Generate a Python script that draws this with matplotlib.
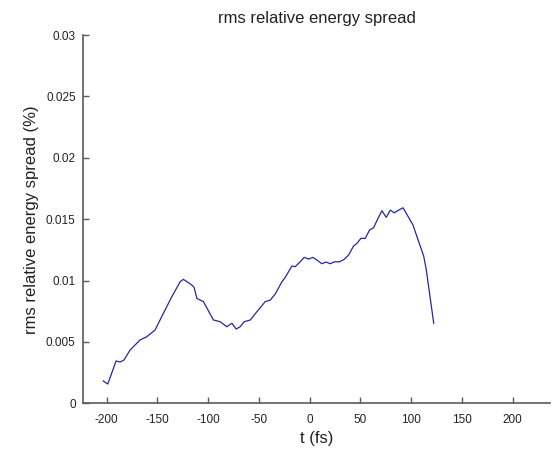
import matplotlib
matplotlib.use("Agg")
import matplotlib.pyplot as plt

plt.rcParams["font.family"] = ["Liberation Sans", "DejaVu Sans"]

# 数据：rms 相对能散曲线
t_fs = [-203.4, -199.0, -195.8, -190.8, -186.9, -183.0, -177.0, -167.2, -160.6,
        -152.4, -144.2, -135.9, -127.7, -124.5, -116.2, -113.9, -111.2, -104.7,
        -94.9, -88.3, -81.7, -76.7, -72.5, -68.5, -64.6, -58.7, -52.1, -43.9,
        -38.9, -34.0, -27.4, -24.1, -17.6, -14.3, -9.4, -5.4, -1.2, 3.2, 7.1,
        12.0, 16.0, 20.2, 24.2, 29.4, 34.0, 38.3, 43.2, 46.5, 50.5, 54.7, 59.0,
        62.9, 67.3, 71.2, 75.4, 79.4, 83.3, 87.6, 91.9, 95.2, 101.8, 105.7,
        112.3, 114.9, 122.2]
spread = [0.00182, 0.00157, 0.00230, 0.00345, 0.00336, 0.00353, 0.00434,
          0.00516, 0.00542, 0.00597, 0.00733, 0.00868, 0.00990, 0.01010,
          0.00964, 0.00945, 0.00855, 0.00828, 0.00679, 0.00665, 0.00624,
          0.00652, 0.00605, 0.00624, 0.00665, 0.00678, 0.00746, 0.00828,
          0.00841, 0.00890, 0.00990, 0.01026, 0.01118, 0.01113, 0.01153,
          0.01189, 0.01175, 0.01189, 0.01167, 0.01137, 0.01151, 0.01137,
          0.01153, 0.01153, 0.01173, 0.01208, 0.01281, 0.01303, 0.01344,
          0.01344, 0.01412, 0.01430, 0.01507, 0.01569, 0.01515, 0.01574,
          0.01552, 0.01574, 0.01593, 0.01547, 0.01452, 0.01357, 0.01200,
          0.01086, 0.00652]

x_ticks = [-200, -150, -100, -50, 0, 50, 100, 150, 200]
y_ticks = [0, 0.005, 0.01, 0.015, 0.02, 0.025, 0.03]
y_tick_labels = ["0", "0.005", "0.01", "0.015", "0.02", "0.025", "0.03"]

AXIS_GRAY = "#5a5a5a"

fig = plt.figure(figsize=(5.52, 4.49), dpi=100)
ax = fig.add_axes([0.1498, 0.1018, 0.847, 0.820])
ax.plot(t_fs, spread, color="#2626a6", linewidth=0.9)

ax.set_xlim(-223.7, 237)
ax.set_ylim(0, 0.03)
ax.set_xticks(x_ticks)
ax.set_xticklabels([str(v) for v in x_ticks])
ax.set_yticks(y_ticks)
ax.set_yticklabels(y_tick_labels)

for side in ["top", "right"]:
    ax.spines[side].set_visible(False)
for side in ["left", "bottom"]:
    ax.spines[side].set_color(AXIS_GRAY)
    ax.spines[side].set_linewidth(1.2)
ax.tick_params(direction="in", length=4, width=1, color=AXIS_GRAY,
               labelsize=8.5, labelcolor="#222222")
ax.tick_params(axis="x", pad=7.5)
ax.tick_params(axis="y", pad=5)

ax.set_xlabel("t (fs)", fontsize=12, color="#222222", labelpad=4)
ax.set_ylabel("rms relative energy spread (%)", fontsize=12, color="#222222", labelpad=5)
ax.set_title("rms relative energy spread", fontsize=12, color="#222222", pad=9)

fig.savefig("out.png", dpi=100)
